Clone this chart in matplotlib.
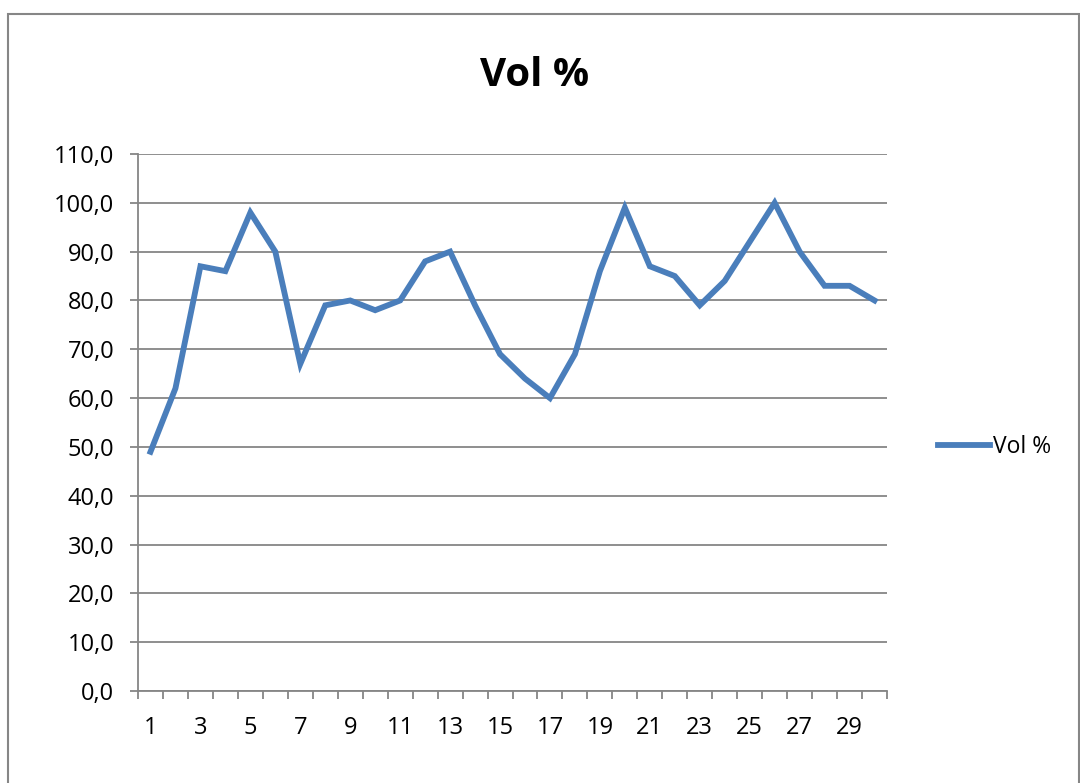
import numpy as np
import matplotlib
matplotlib.use("Agg")
import matplotlib.pyplot as plt
from matplotlib.patches import Rectangle
from matplotlib.ticker import FixedLocator, FuncFormatter

# data
days = list(range(1, 31))
vol = [49, 62, 87, 86, 98, 90, 67, 79, 80, 78,
       80, 88, 90, 79, 69, 64, 60, 69, 86, 99,
       87, 85, 79, 84, 92, 100, 90, 83, 83, 80]
y_ticks = list(range(0, 111, 10))
x_labels = list(range(1, 30, 2))

GRAY = "#868686"
BLUE = "#4A7EBB"

plt.rcParams['font.family'] = ['Open Sans', 'DejaVu Sans']

fig = plt.figure(figsize=(10.8, 7.83), dpi=100)
ax = fig.add_axes([138 / 1080, 1 - 691 / 783, (887 - 138) / 1080, (691 - 154) / 783])

ax.plot(days, vol, color=BLUE, lw=4.2, solid_joinstyle='miter', zorder=3)

ax.set_xlim(0.5, 30.5)
ax.set_ylim(0, 110)

# grid
ax.set_yticks(y_ticks)
ax.yaxis.set_major_formatter(FuncFormatter(lambda v, p: f"{v:.1f}".replace('.', ',')))
ax.grid(axis='y', color=GRAY, lw=1.3, zorder=1)
ax.set_axisbelow(True)

# category axis: labels centred, tick marks between categories
ax.xaxis.set_major_locator(FixedLocator(x_labels))
ax.xaxis.set_minor_locator(FixedLocator(np.arange(0.5, 31, 1)))
ax.tick_params(axis='x', which='major', length=0, pad=18, labelsize=17)
ax.tick_params(axis='x', which='minor', length=6, width=1.3, color=GRAY, direction='out')
ax.tick_params(axis='y', length=6, width=1.3, color=GRAY, direction='out', pad=11, labelsize=17)

for s in ['top', 'right']:
    ax.spines[s].set_visible(False)
for s in ['left', 'bottom']:
    ax.spines[s].set_color(GRAY)
    ax.spines[s].set_linewidth(1.3)

fig.text(535 / 1080, 1 - 75 / 783, "Vol %", ha='center', va='center',
         fontsize=29, fontweight='bold')

leg = ax.legend(["Vol %"], loc='center left', bbox_to_anchor=(1.04, 0.455),
                frameon=False, fontsize=16.5, handlelength=2.3, handletextpad=0.1)

# outer chart border
fig.add_artist(Rectangle((8 / 1080, -0.1), (1079 - 8) / 1080, 1.1 - 14 / 783,
                         transform=fig.transFigure, fill=False,
                         edgecolor=GRAY, lw=1.5))

fig.savefig("out.png", dpi=100)
